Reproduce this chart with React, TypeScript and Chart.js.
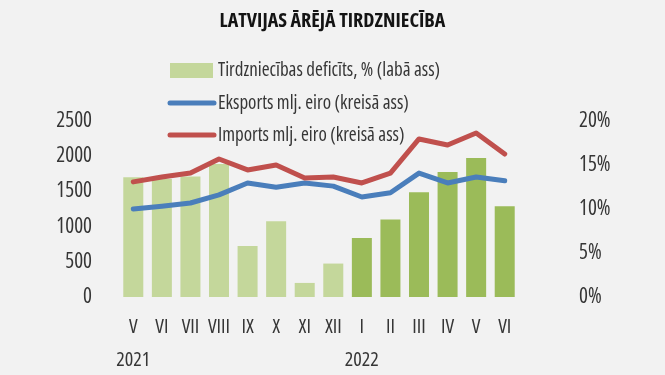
import React, { useEffect, useRef } from "react";
import { Chart, registerables } from "chart.js";
Chart.register(...registerables);

const TITLE = "LATVIJAS ĀRĒJĀ TIRDZNIECĪBA";
const months = ["V", "VI", "VII", "VIII", "IX", "X", "XI", "XII", "I", "II", "III", "IV", "V", "VI"];
const years = ["2021", "", "", "", "", "", "", "", "2022", "", "", "", "", ""];
const deficitPct = [13.6, 13.4, 13.7, 15.1, 5.8, 8.6, 1.6, 3.8, 6.7, 8.8, 11.9, 14.2, 15.8, 10.3];
const exportsMln = [1250, 1290, 1335, 1450, 1620, 1560, 1620, 1575, 1420, 1480, 1760, 1620, 1705, 1650];
const importsMln = [1635, 1705, 1760, 1960, 1805, 1875, 1690, 1705, 1620, 1760, 2245, 2160, 2330, 2030];
const barColors2021 = "#c4d79b";
const barColors2022 = "#9bbb59";
const seriesLabels = [
  "Tirdzniecības deficīts, % (labā ass)",
  "Eksports mlj. eiro (kreisā ass)",
  "Imports mlj. eiro (kreisā ass)",
];
const LEFT_MAX = 2500;
const LEFT_STEP = 500;
const RIGHT_MAX = 20;
const RIGHT_STEP = 5;

const FONT = "'Open Sans', 'Roboto', sans-serif";
const TEXT = "#363636";

const legendPlugin = {
  id: "customLegend",
  afterDraw(chart: any) {
    const ctx = chart.ctx;
    ctx.save();
    ctx.font = `condensed 19px ${FONT}`;
    ctx.fillStyle = TEXT;
    ctx.textBaseline = "middle";
    ctx.textAlign = "left";
    const x0 = 169;
    const rows = [71, 104, 136];
    chart.data.datasets.forEach((ds: any, i: number) => {
      const y = rows[i];
      if (ds.type === "bar") {
        ctx.fillStyle = ds.legendColor;
        ctx.fillRect(x0 + 1, y - 8, 43, 15);
      } else {
        ctx.strokeStyle = ds.borderColor;
        ctx.lineWidth = 5;
        ctx.lineCap = "round";
        ctx.beginPath();
        ctx.moveTo(x0 + 1, y - 1);
        ctx.lineTo(x0 + 45, y - 1);
        ctx.stroke();
      }
      ctx.fillStyle = TEXT;
      ctx.fillText(ds.label, 218, y);
    });
    ctx.restore();
  },
};

export default function App() {
  const ref = useRef<HTMLCanvasElement>(null);
  useEffect(() => {
    document.body.style.margin = "0";
    const labels = months.map((m, i) => (years[i] ? [m, years[i]] : m));
    const chart = new Chart(ref.current!, {
      type: "bar",
      data: {
        labels,
        datasets: [
          {
            type: "bar",
            label: seriesLabels[0],
            data: deficitPct,
            yAxisID: "yR",
            backgroundColor: deficitPct.map((_, i) => (i < 8 ? barColors2021 : barColors2022)),
            legendColor: barColors2021,
            barPercentage: 0.7,
            categoryPercentage: 1,
            order: 3,
          } as any,
          {
            type: "line",
            label: seriesLabels[1],
            data: exportsMln,
            yAxisID: "yL",
            borderColor: "#4a7ebb",
            borderWidth: 5,
            pointRadius: 0,
            tension: 0,
            borderCapStyle: "round",
            borderJoinStyle: "round",
            order: 2,
          },
          {
            type: "line",
            label: seriesLabels[2],
            data: importsMln,
            yAxisID: "yL",
            borderColor: "#c0504d",
            borderWidth: 5,
            pointRadius: 0,
            tension: 0,
            borderCapStyle: "round",
            borderJoinStyle: "round",
            order: 1,
          },
        ],
      },
      options: {
        animation: false,
        responsive: false,
        devicePixelRatio: 1,
        layout: { padding: 0 },
        plugins: {
          legend: { display: false },
          tooltip: { enabled: false },
          title: {
            display: true,
            text: TITLE,
            color: "#141414",
            font: { family: FONT, size: 20, weight: "bold condensed" as any, lineHeight: 1.2 },
            padding: { top: 9, bottom: 88 },
          },
        },
        scales: {
          x: {
            grid: { display: false, drawTicks: false },
            border: { display: false },
            ticks: {
              color: TEXT,
              font: { family: FONT, size: 20, weight: "condensed" as any, lineHeight: 1.65 },
              padding: 14,
              maxRotation: 0,
              autoSkip: false,
            },
            afterFit(scale: any) {
              scale.height = 78;
            },
          },
          yL: {
            position: "left",
            min: 0,
            max: LEFT_MAX,
            grid: { display: false, drawTicks: false },
            border: { display: false },
            ticks: {
              stepSize: LEFT_STEP,
              color: TEXT,
              font: { family: FONT, size: 21, weight: "condensed" as any },
              padding: 27,
              callback: (v: any) => `${v}`,
            },
            afterFit(scale: any) {
              scale.width = 119;
            },
          },
          yR: {
            position: "right",
            min: 0,
            max: RIGHT_MAX,
            grid: { display: false, drawTicks: false },
            border: { display: false },
            ticks: {
              stepSize: RIGHT_STEP,
              color: TEXT,
              font: { family: FONT, size: 21, weight: "condensed" as any },
              padding: 60,
              callback: (v: any) => `${v}%`,
            },
            afterFit(scale: any) {
              scale.width = 146;
            },
          },
        },
      },
      plugins: [legendPlugin],
    });
    return () => chart.destroy();
  }, []);
  return (
    <div style={{ position: "absolute", left: 0, top: 0, width: 665, height: 375, background: "#f2f2f2" }}>
      <canvas ref={ref} width={665} height={375} style={{ display: "block" }} />
    </div>
  );
}
